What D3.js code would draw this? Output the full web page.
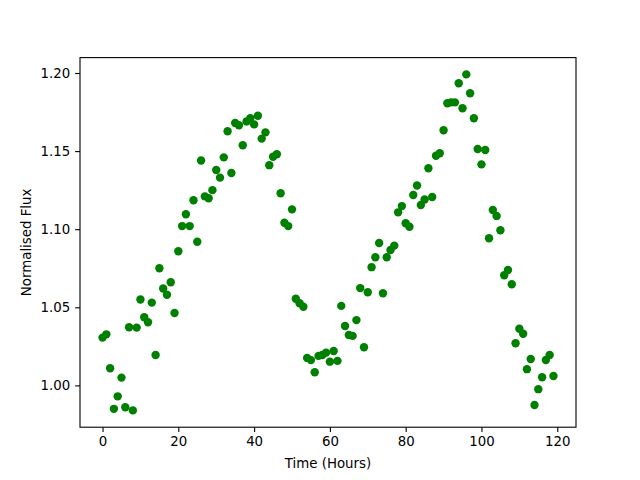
<!DOCTYPE html>
<html><head><meta charset="utf-8">
<script src="https://cdn.jsdelivr.net/npm/d3@7"></script>
<style>body{margin:0;background:#fff}svg{display:block}text{font-family:"DejaVu Sans",sans-serif}</style>
</head><body>
<script>
const timeHours = d3.range(0, 120);
const flux = [
1.0306,1.0327,1.011,0.985,0.993,1.005,0.986,1.0372,0.984,1.037,
1.055,1.0436,1.0404,1.053,1.0195,1.075,1.062,1.058,1.066,1.0464,
1.0859,1.102,1.1096,1.102,1.1185,1.092,1.144,1.121,1.1198,1.125,
1.1379,1.133,1.146,1.1627,1.136,1.168,1.1665,1.1537,1.169,1.171,
1.1671,1.1726,1.158,1.162,1.141,1.1464,1.148,1.123,1.1041,1.102,
1.1127,1.0555,1.0526,1.0504,1.0176,1.0162,1.0084,1.0189,1.0195,1.021,
1.0152,1.022,1.0157,1.0509,1.038,1.0323,1.0317,1.0418,1.0623,1.0244,
1.0596,1.0757,1.082,1.0912,1.059,1.082,1.0867,1.0895,1.1108,1.1148,
1.1038,1.1016,1.1219,1.128,1.1155,1.119,1.139,1.1206,1.147,1.1486,
1.1633,1.1806,1.1812,1.1812,1.1934,1.1774,1.1991,1.187,1.171,1.1513,
1.1415,1.1507,1.0942,1.1123,1.1085,1.0993,1.0705,1.0739,1.0648,1.027,
1.0363,1.0331,1.0104,1.0169,0.9875,0.9976,1.0052,1.0163,1.0195,1.006
];
const xTicks = [0,20,40,60,80,100,120];
const yTicks = [1.00,1.05,1.10,1.15,1.20];
const xLabel = "Time (Hours)";
const yLabel = "Normalised Flux";

const W = 640, H = 480;
const m = {left: 80, right: 64, top: 57.6, bottom: 52.8};
const svg = d3.select("body").append("svg").attr("width", W).attr("height", H);

function padded(ext){ const r = ext[1]-ext[0]; return [ext[0]-0.05*r, ext[1]+0.05*r]; }
const x = d3.scaleLinear().domain(padded(d3.extent(timeHours))).range([m.left, W - m.right]);
const y = d3.scaleLinear().domain(padded(d3.extent(flux))).range([H - m.bottom, m.top]);

const g = svg.append("g");
g.selectAll("circle").data(timeHours).join("circle")
  .attr("cx", (d) => x(d)).attr("cy", (d, i) => y(flux[i]))
  .attr("r", 4.2).attr("fill", "#008000");

const xAxis = svg.append("g").attr("transform", `translate(0,${H - m.bottom})`)
  .call(d3.axisBottom(x).tickValues(xTicks).tickFormat(d3.format("d")).tickSize(4.9).tickPadding(4.9));
const yAxis = svg.append("g").attr("transform", `translate(${m.left},0)`)
  .call(d3.axisLeft(y).tickValues(yTicks).tickFormat(d3.format(".2f")).tickSize(4.9).tickPadding(4.9));
[xAxis, yAxis].forEach(a => {
  a.select(".domain").remove();
  a.selectAll(".tick line").attr("stroke", "#000").attr("stroke-width", 1.1);
  a.selectAll(".tick text").attr("font-size", 13.33).attr("fill", "#000").attr("font-family", "DejaVu Sans");
});

svg.append("rect").attr("x", m.left).attr("y", m.top)
  .attr("width", W - m.left - m.right).attr("height", H - m.top - m.bottom)
  .attr("fill", "none").attr("stroke", "#000").attr("stroke-width", 1.1);

svg.append("text").attr("x", (m.left + W - m.right) / 2).attr("y", 468)
  .attr("text-anchor", "middle").attr("font-size", 13.33).text(xLabel);
svg.append("text").attr("transform", `translate(31,${(m.top + H - m.bottom) / 2}) rotate(-90)`)
  .attr("text-anchor", "middle").attr("font-size", 13.33).text(yLabel);
</script>
</body></html>
